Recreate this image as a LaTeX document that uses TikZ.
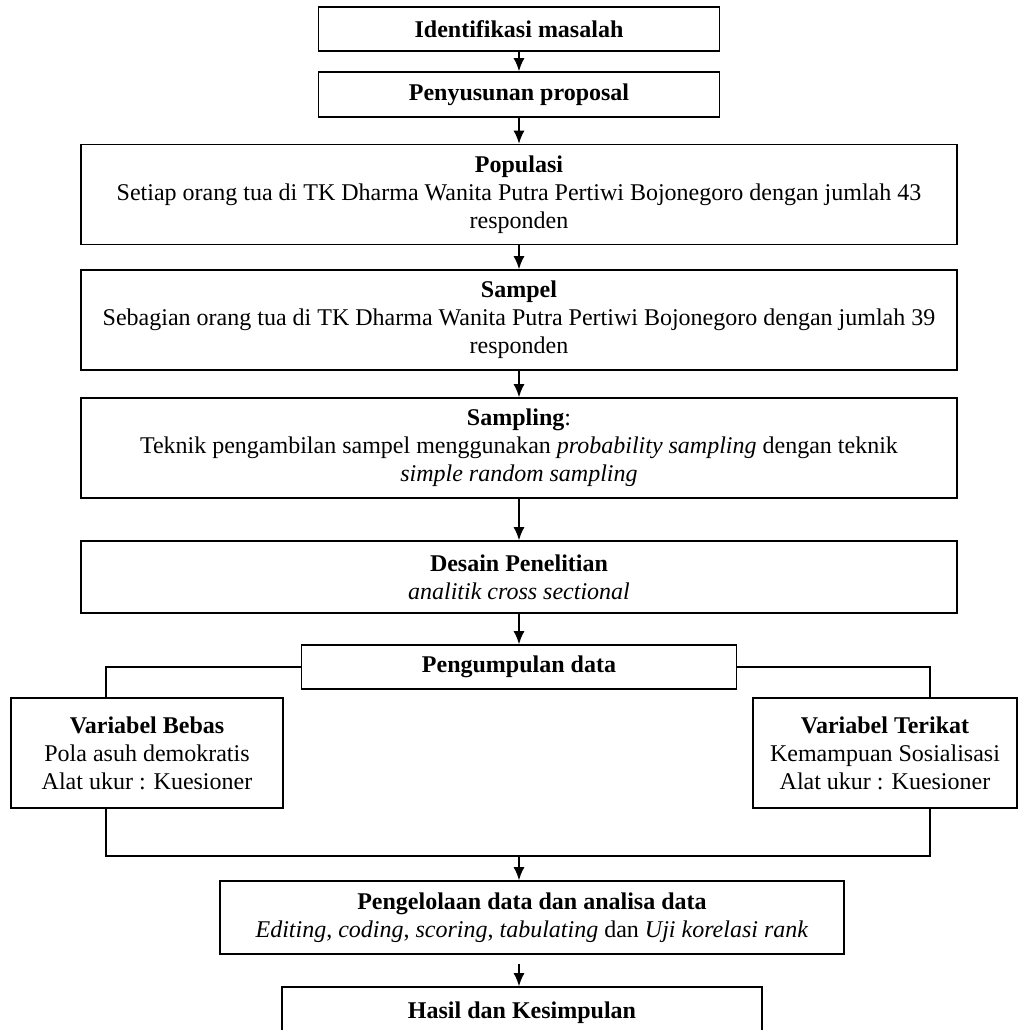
\documentclass[tikz,border=0pt]{standalone}
\usepackage{fontspec}
\setmainfont{Liberation Serif}
\usetikzlibrary{positioning, arrows.meta}

\tikzset{
  block/.style = {draw, line width=0.8pt, align=center, inner sep=0pt, font=\fontsize{12}{14}\selectfont},
  line/.style = {draw, line width=0.8pt, -{Latex[length=6.5pt,width=5.5pt]}},
  link/.style = {draw, line width=0.8pt}
}

\begin{document}
\begin{tikzpicture}[x=0.5pt, y=-0.5pt, node distance = 1cm, auto]
			\useasboundingbox (0,0) rectangle (1018,1030);
			\node [block, minimum width=200.5pt, minimum height=22pt] (ident) at (519,29) {\textbf{Identifikasi masalah}};
			\node [block, minimum width=200.5pt, minimum height=22.5pt, below of = ident, node distance = 32.75pt] (proposal) {\textbf{Penyusunan proposal}};
			\node [block, minimum width=438pt, minimum height=50pt, below of = proposal, node distance = 50pt] (populasi) {\textbf{Populasi}\\ Setiap orang tua di TK Dharma Wanita Putra Pertiwi Bojonegoro dengan jumlah 43\\ responden};
			\node [block, minimum width=438pt, minimum height=50pt, below of = populasi, node distance = 62.75pt] (sampel) {\textbf{Sampel}\\ Sebagian orang tua di TK Dharma Wanita Putra Pertiwi Bojonegoro dengan jumlah 39\\ responden};
			\node [block, minimum width=438pt, minimum height=50pt, below of = sampel, node distance = 64pt] (sampling) {\textbf{Sampling}:\\ Teknik pengambilan sampel menggunakan \textit{probability sampling} dengan teknik\\ \textit{simple random sampling}};
			\node [block, minimum width=438pt, minimum height=36pt, below of = sampling, node distance = 64.5pt] (desain) {\textbf{Desain Penelitian}\\ \textit{analitik cross sectional}};
			\node [block, minimum width=217.5pt, minimum height=22pt, below of = desain, node distance = 45pt] (kumpul) {\textbf{Pengumpulan data}};
			\node [block, minimum width=136pt, minimum height=55pt, below of = kumpul, node distance = 43pt, xshift = -186pt] (bebas) {\textbf{Variabel Bebas}\\ Pola asuh demokratis\\ Alat ukur : Kuesioner};
			\node [block, minimum width=132pt, minimum height=55pt, below of = kumpul, node distance = 43pt, xshift = 183pt] (terikat) {\textbf{Variabel Terikat}\\ Kemampuan Sosialisasi\\ Alat ukur : Kuesioner};
			\coordinate [below of = kumpul, node distance = 94.5pt] (join);
			\node [block, minimum width=312pt, minimum height=36.5pt, below of = kumpul, node distance = 125.25pt, xshift = 6.5pt] (olah) {\textbf{Pengelolaan data dan analisa data}\\ \textit{Editing}, \textit{coding}, \textit{scoring}, \textit{tabulating} dan \textit{Uji korelasi rank}};
			\node [block, minimum width=240pt, minimum height=26pt, below of = olah, node distance = 47.75pt, xshift = -5pt] (hasil) {\textbf{Hasil dan Kesimpulan}};
			\path [line] (ident) -- (proposal);
			\path [line] (proposal) -- (populasi);
			\path [line] (populasi) -- (sampel);
			\path [line] (sampel) -- (sampling);
			\path [line] (sampling) -- (desain);
			\path [line] (desain) -- (kumpul);
			\path [link] (kumpul.west) -| ([xshift=-20.5pt]bebas.north);
			\path [link] (kumpul.east) -| ([xshift=22.5pt]terikat.north);
			\path [link] ([xshift=-20.5pt]bebas.south) |- (join) -| ([xshift=22.5pt]terikat.south);
			\path [line] (join) -- (join |- olah.north);
			\path [line, shorten <=4.5pt] (olah.south -| join) -- (join |- hasil.north);
		\end{tikzpicture}
\end{document}
